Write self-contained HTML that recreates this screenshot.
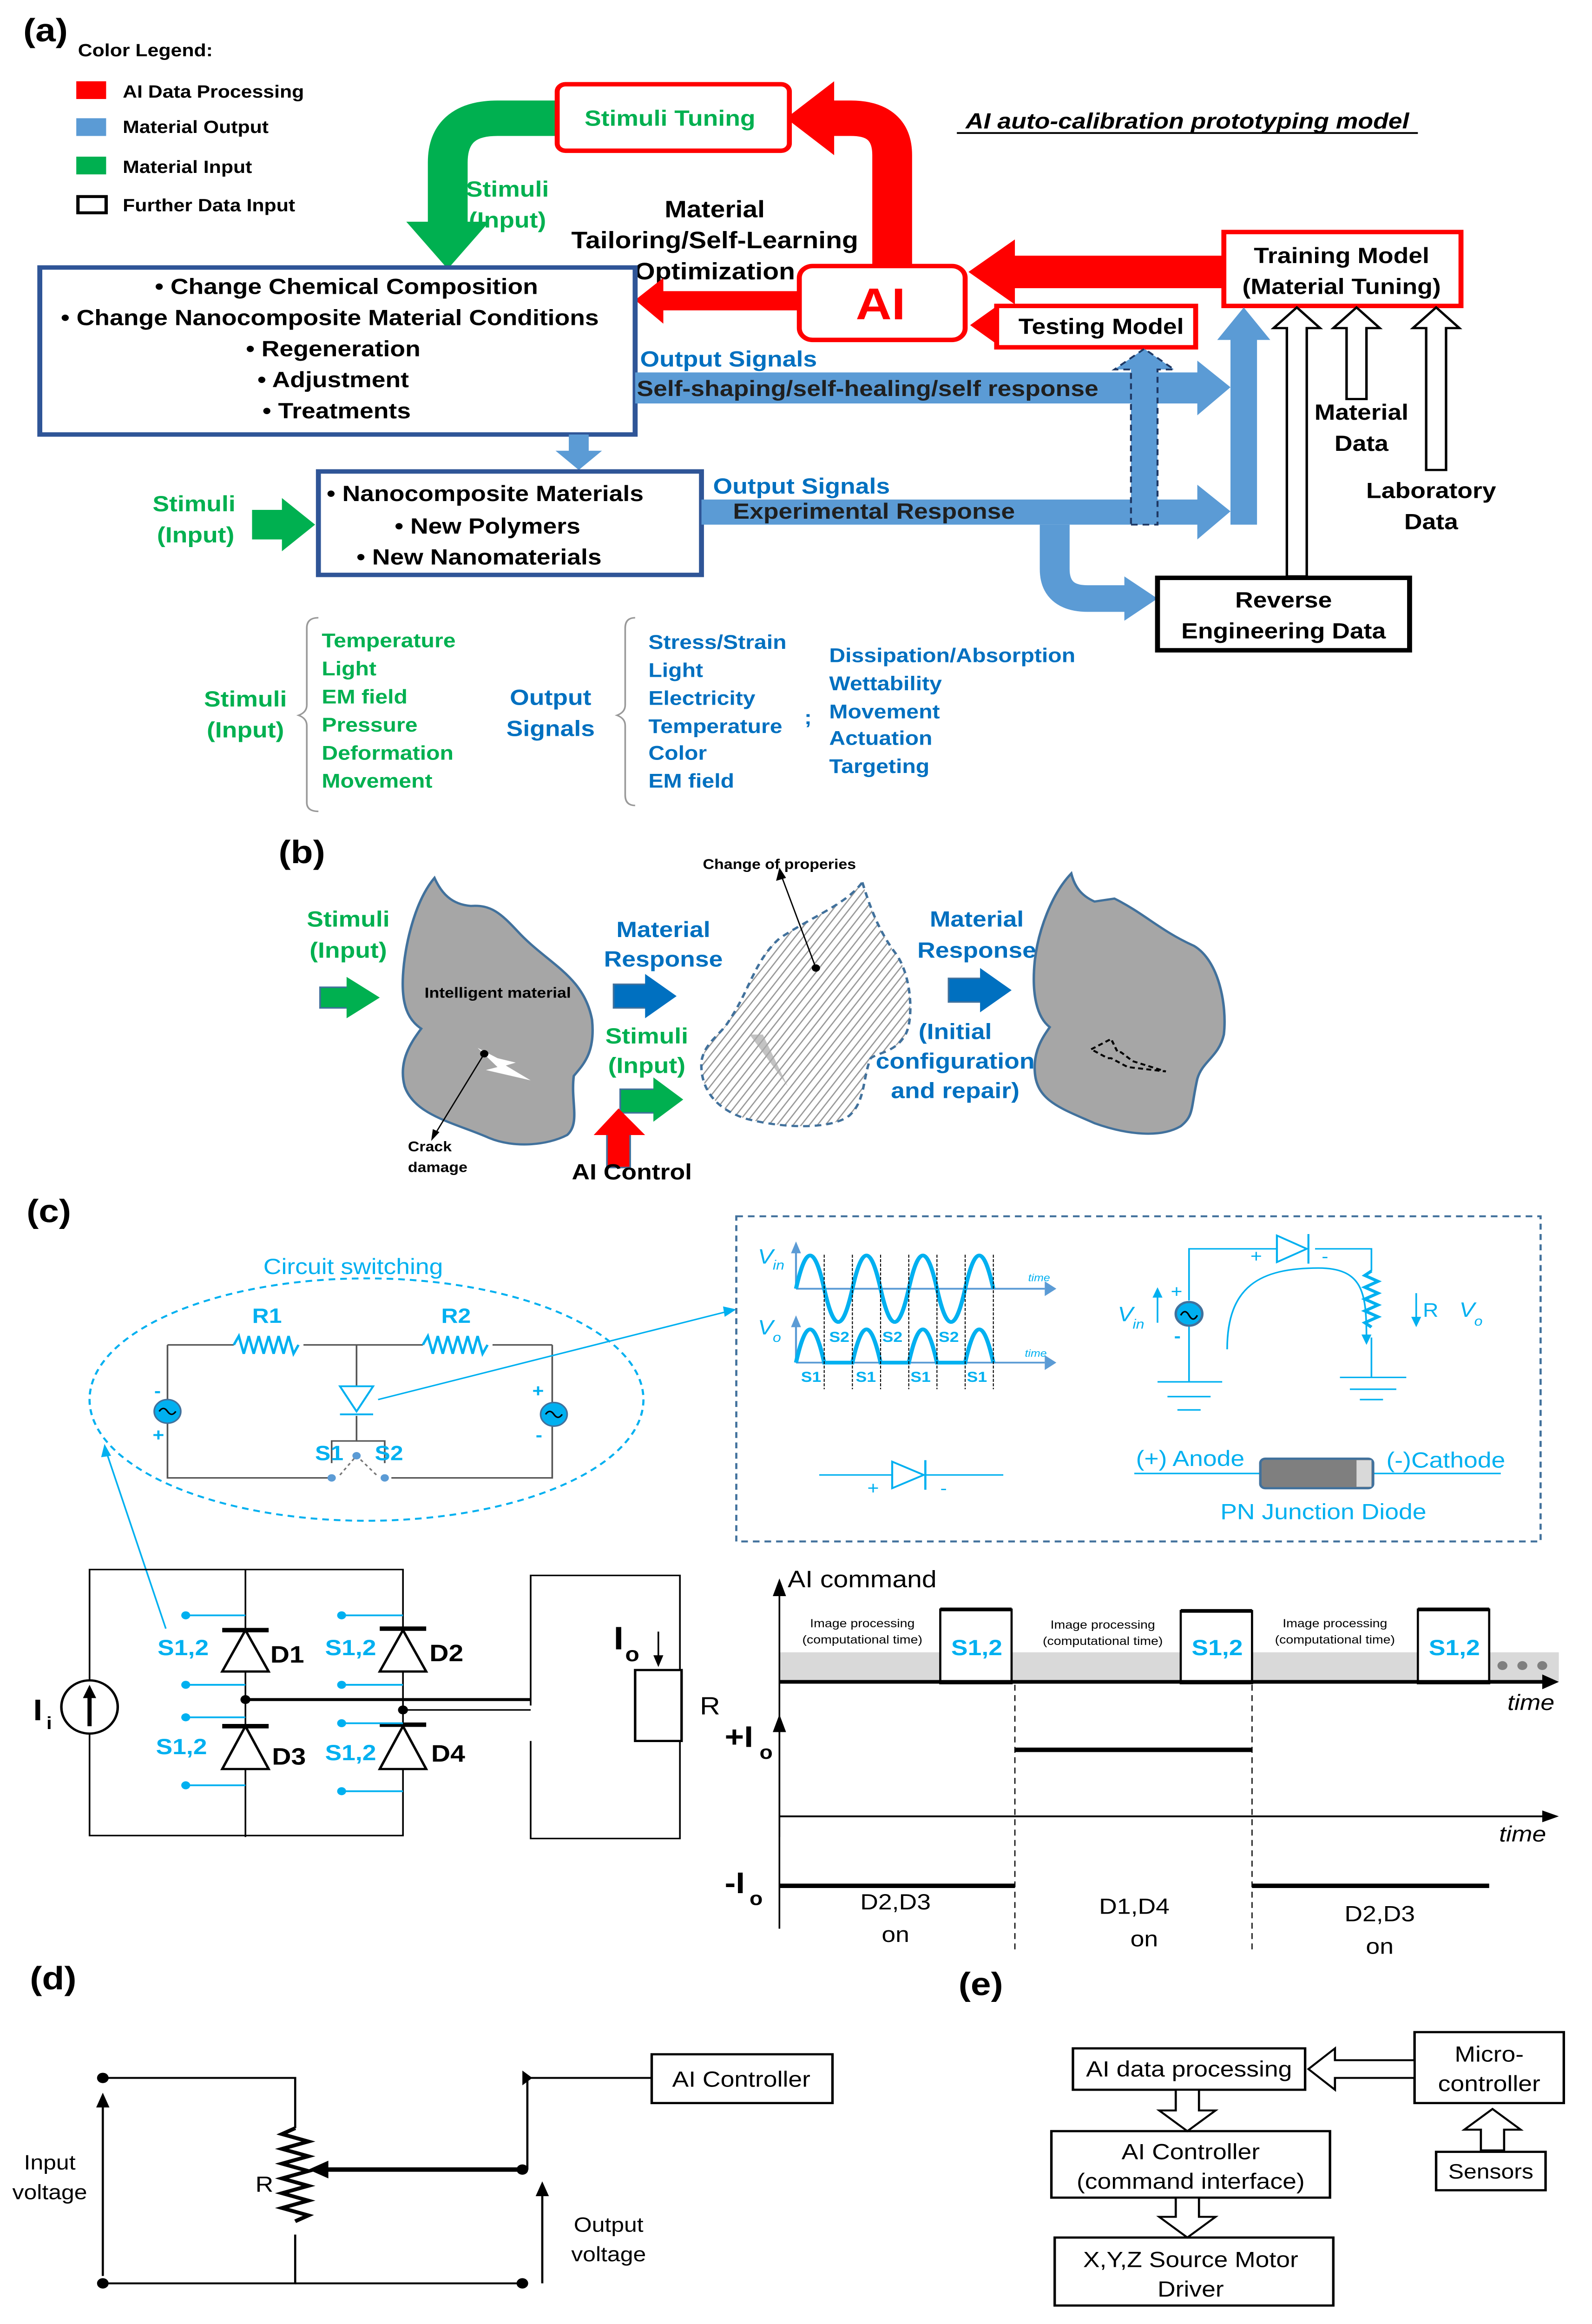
<!DOCTYPE html>
<html><head><meta charset="utf-8"><style>
html,body{margin:0;padding:0;background:#fff;width:100%;height:100%;overflow:hidden;}
svg{display:block;width:100vw;height:100vh;}
text{font-family:"Liberation Sans",sans-serif;}
</style></head><body>
<svg viewBox="0 0 960 1572.5" preserveAspectRatio="none" xmlns="http://www.w3.org/2000/svg">
<defs>
<pattern id="hatch" width="4" height="4" patternUnits="userSpaceOnUse" patternTransform="rotate(35)">
<rect width="4" height="4" fill="#fff"/><line x1="0" y1="0" x2="0" y2="4" stroke="#999" stroke-width="1.6"/>
</pattern>
</defs>
<rect width="960" height="1572.5" fill="#fff"/>

<!-- ================= (a) ================= -->
<text x="14" y="28" font-size="22" font-weight="bold">(a)</text>
<text x="47" y="38" font-size="12" font-weight="bold">Color Legend:</text>
<rect x="46" y="55" width="18" height="12" fill="#ff0000"/><text x="74" y="66" font-size="12" font-weight="bold">AI Data Processing</text>
<rect x="46" y="80" width="18" height="12" fill="#5b9bd5"/><text x="74" y="90" font-size="12" font-weight="bold">Material Output</text>
<rect x="46" y="106" width="18" height="12" fill="#00b050"/><text x="74" y="117" font-size="12" font-weight="bold">Material Input</text>
<rect x="47" y="133" width="17" height="11" fill="#fff" stroke="#000" stroke-width="2"/><text x="74" y="143" font-size="12" font-weight="bold">Further Data Input</text>

<path d="M336,80 L300,80 Q270,80 270,110 L270,152" fill="none" stroke="#00b050" stroke-width="24"/>
<polygon points="245,150 295,150 270,182" fill="#00b050"/>
<path d="M538,182 L538,105 Q538,80 513,80 L500,80" fill="none" stroke="#ff0000" stroke-width="24"/>
<polygon points="503,55 503,105 474,80" fill="#ff0000"/>
<rect x="336" y="57" width="140" height="45" rx="5" fill="#fff" stroke="#ff0000" stroke-width="3"/>
<text x="404" y="85" font-size="15" font-weight="bold" fill="#00b050" text-anchor="middle">Stimuli Tuning</text>
<text x="306" y="133" font-size="15" font-weight="bold" fill="#00b050" text-anchor="middle">Stimuli</text>
<text x="306" y="154" font-size="15" font-weight="bold" fill="#00b050" text-anchor="middle">(Input)</text>
<text x="431" y="147" font-size="16" font-weight="bold" text-anchor="middle">Material</text>
<text x="431" y="168" font-size="16" font-weight="bold" text-anchor="middle">Tailoring/Self-Learning</text>
<text x="431" y="189" font-size="16" font-weight="bold" text-anchor="middle">Optimization</text>
<text x="716" y="87" font-size="15" font-weight="bold" font-style="italic" text-anchor="middle">AI auto-calibration prototyping model</text>
<line x1="577" y1="90" x2="855" y2="90" stroke="#000" stroke-width="1.2"/>

<rect x="610" y="173" width="130" height="22" fill="#ff0000"/>
<polygon points="612,162 612,206 584,184" fill="#ff0000"/>
<rect x="398" y="197" width="90" height="13" fill="#ff0000"/>
<polygon points="400,188 400,219 383,203" fill="#ff0000"/>
<rect x="595" y="214" width="10" height="12" fill="#ff0000"/>
<polygon points="600,208 600,232 585,220" fill="#ff0000"/>
<rect x="482" y="180" width="100" height="50" rx="8" fill="#fff" stroke="#ff0000" stroke-width="3"/>
<text x="531" y="216" font-size="30" font-weight="bold" fill="#ff0000" text-anchor="middle">AI</text>
<rect x="738" y="157" width="143" height="50" fill="#fff" stroke="#ff0000" stroke-width="3"/>
<text x="809" y="178" font-size="15" font-weight="bold" text-anchor="middle">Training Model</text>
<text x="809" y="199" font-size="15" font-weight="bold" text-anchor="middle">(Material Tuning)</text>
<rect x="601" y="207" width="120" height="28" fill="#fff" stroke="#ff0000" stroke-width="3"/>
<text x="664" y="226" font-size="15" font-weight="bold" text-anchor="middle">Testing Model</text>

<rect x="24" y="181" width="359" height="113" fill="#fff" stroke="#2f5597" stroke-width="3"/>
<text font-size="15" font-weight="bold" text-anchor="middle">
<tspan x="211" y="199">•   Change Chemical Composition</tspan>
<tspan x="201" y="220">•   Change Nanocomposite Material Conditions</tspan>
<tspan x="203" y="241">•   Regeneration</tspan>
<tspan x="203" y="262">•   Adjustment</tspan>
<tspan x="203" y="283">•   Treatments</tspan>
</text>
<rect x="343" y="294" width="12" height="12" fill="#5b9bd5"/>
<polygon points="335,305 363,305 349,318" fill="#5b9bd5"/>

<rect x="383" y="252" width="340" height="21" fill="#5b9bd5"/>
<polygon points="722,244 722,281 742,262" fill="#5b9bd5"/>
<text x="386" y="248" font-size="15" font-weight="bold" fill="#0070c0">Output Signals</text>
<text x="384" y="268" font-size="15" font-weight="bold" fill="#1f1f1f">Self-shaping/self-healing/self response</text>

<rect x="192" y="319" width="231" height="70" fill="#fff" stroke="#2f5597" stroke-width="3"/>
<text font-size="15" font-weight="bold">
<tspan x="197" y="339">•    Nanocomposite Materials</tspan>
<tspan x="238" y="361">•    New Polymers</tspan>
<tspan x="215" y="382">•    New Nanomaterials</tspan>
</text>
<text x="117" y="346" font-size="15" font-weight="bold" fill="#00b050" text-anchor="middle">Stimuli</text>
<text x="118" y="367" font-size="15" font-weight="bold" fill="#00b050" text-anchor="middle">(Input)</text>
<rect x="152" y="345" width="20" height="20" fill="#00b050"/>
<polygon points="170,337 170,373 190,355" fill="#00b050"/>

<path d="M636,355 L636,385 Q636,405 656,405 L680,405" fill="none" stroke="#5b9bd5" stroke-width="18"/>
<polygon points="678,390 678,420 698,405" fill="#5b9bd5"/>
<rect x="423" y="338" width="300" height="17" fill="#5b9bd5"/>
<polygon points="722,328 722,365 742,346" fill="#5b9bd5"/>
<text x="430" y="334" font-size="15" font-weight="bold" fill="#0070c0">Output Signals</text>
<text x="442" y="351" font-size="15" font-weight="bold" fill="#1f1f1f">Experimental Response</text>
<polygon points="682,355 698,355 698,250 708,250 690,236 672,250 682,250" fill="#5b9bd5" stroke="#1f3864" stroke-width="1.2" stroke-dasharray="4,3"/>
<rect x="742" y="228" width="16" height="127" fill="#5b9bd5"/>
<polygon points="734,230 766,230 750,208" fill="#5b9bd5"/>
<polygon points="776,390 788,390 788,222 796,222 782,208 768,222 776,222" fill="#fff" stroke="#000" stroke-width="1.5"/>
<polygon points="812,270 824,270 824,222 832,222 818,208 804,222 812,222" fill="#fff" stroke="#000" stroke-width="1.5"/>
<polygon points="860,318 872,318 872,222 880,222 866,208 852,222 860,222" fill="#fff" stroke="#000" stroke-width="1.5"/>
<text x="821" y="284" font-size="15" font-weight="bold" text-anchor="middle">Material</text>
<text x="821" y="305" font-size="15" font-weight="bold" text-anchor="middle">Data</text>
<text x="863" y="337" font-size="15" font-weight="bold" text-anchor="middle">Laboratory</text>
<text x="863" y="358" font-size="15" font-weight="bold" text-anchor="middle">Data</text>
<rect x="698" y="391" width="152" height="49" fill="#fff" stroke="#000" stroke-width="3"/>
<text x="774" y="411" font-size="15" font-weight="bold" text-anchor="middle">Reverse</text>
<text x="774" y="432" font-size="15" font-weight="bold" text-anchor="middle">Engineering Data</text>

<text x="148" y="478" font-size="15" font-weight="bold" fill="#00b050" text-anchor="middle">Stimuli</text>
<text x="148" y="499" font-size="15" font-weight="bold" fill="#00b050" text-anchor="middle">(Input)</text>
<path d="M192,418 Q185,418 185,425 L185,477 Q185,482 180,484 Q185,486 185,491 L185,543 Q185,549 192,549" fill="none" stroke="#999" stroke-width="1"/>
<text font-size="13.5" font-weight="bold" fill="#00b050">
<tspan x="194" y="438">Temperature</tspan><tspan x="194" y="457">Light</tspan><tspan x="194" y="476">EM field</tspan><tspan x="194" y="495">Pressure</tspan><tspan x="194" y="514">Deformation</tspan><tspan x="194" y="533">Movement</tspan>
</text>
<text x="332" y="477" font-size="15" font-weight="bold" fill="#0070c0" text-anchor="middle">Output</text>
<text x="332" y="498" font-size="15" font-weight="bold" fill="#0070c0" text-anchor="middle">Signals</text>
<path d="M383,418 Q377,418 377,425 L377,477 Q377,482 372,484 Q377,486 377,491 L377,538 Q377,545 383,545" fill="none" stroke="#999" stroke-width="1"/>
<text font-size="13.5" font-weight="bold" fill="#0070c0">
<tspan x="391" y="439">Stress/Strain</tspan><tspan x="391" y="458">Light</tspan><tspan x="391" y="477">Electricity</tspan><tspan x="391" y="496">Temperature</tspan><tspan x="391" y="514">Color</tspan><tspan x="391" y="533">EM field</tspan>
<tspan x="485" y="490">;</tspan>
<tspan x="500" y="448">Dissipation/Absorption</tspan><tspan x="500" y="467">Wettability</tspan><tspan x="500" y="486">Movement</tspan><tspan x="500" y="504">Actuation</tspan><tspan x="500" y="523">Targeting</tspan>
</text>

<!-- ================= (b) ================= -->
<text x="168" y="584" font-size="22" font-weight="bold">(b)</text>
<path d="M262,594 C266,604 272,612 284,613 C296,612 302,618 312,630 C330,652 352,660 357,690 C359,712 352,720 346,728 C344,745 350,760 342,768 C330,775 310,777 295,770 C275,760 250,755 244,735 C240,718 248,705 254,696 C246,690 242,680 243,660 C244,640 250,610 262,594 Z" fill="#a6a6a6" stroke="#41719c" stroke-width="1.5"/>
<polygon points="300,716 288,709 300,722 293,724 320,731 305,721 311,719" fill="#fff"/>
<circle cx="292" cy="713" r="2.5" fill="#000"/>
<line x1="292" y1="713" x2="262" y2="768" stroke="#000" stroke-width="0.8"/>
<polygon points="260,772 261,764 265,766" fill="#000"/>
<text x="256" y="675" font-size="10" font-weight="bold">Intelligent material</text>
<text x="246" y="779" font-size="9.5" font-weight="bold">Crack</text>
<text x="246" y="793" font-size="9.5" font-weight="bold">damage</text>
<text x="210" y="627" font-size="15" font-weight="bold" fill="#00b050" text-anchor="middle">Stimuli</text>
<text x="210" y="648" font-size="15" font-weight="bold" fill="#00b050" text-anchor="middle">(Input)</text>
<rect x="193" y="668" width="17" height="14" fill="#00b050" stroke="#41719c" stroke-width="1"/>
<polygon points="209,661 209,689 229,675" fill="#00b050"/>
<text x="400" y="634" font-size="15" font-weight="bold" fill="#0070c0" text-anchor="middle">Material</text>
<text x="400" y="654" font-size="15" font-weight="bold" fill="#0070c0" text-anchor="middle">Response</text>
<rect x="370" y="666" width="20" height="16" fill="#0070c0" stroke="#41719c" stroke-width="1"/>
<polygon points="389,659 389,689 408,674" fill="#0070c0"/>
<text x="390" y="706" font-size="15" font-weight="bold" fill="#00b050" text-anchor="middle">Stimuli</text>
<text x="390" y="726" font-size="15" font-weight="bold" fill="#00b050" text-anchor="middle">(Input)</text>
<rect x="374" y="737" width="21" height="16" fill="#00b050" stroke="#41719c" stroke-width="1"/>
<polygon points="394,729 394,759 412,744" fill="#00b050"/>
<rect x="366" y="766" width="14" height="24" fill="#ff0000" stroke="#41719c" stroke-width="1"/>
<polygon points="358,768 389,768 373,750" fill="#ff0000"/>
<text x="381" y="798" font-size="15" font-weight="bold" text-anchor="middle">AI Control</text>
<path d="M520,597 C525,615 530,630 540,645 C550,660 551,690 546,700 C540,712 530,712 525,716 C520,730 522,745 512,755 C500,765 470,763 450,757 C430,750 422,735 423,718 C425,705 435,700 440,690 C452,670 455,650 470,635 C490,620 510,612 520,597 Z" fill="url(#hatch)" stroke="#41719c" stroke-width="1.5" stroke-dasharray="4,3"/>
<polygon points="452,700 460,700 475,735" fill="#aaa" opacity="0.7"/>
<circle cx="492" cy="655" r="2.5" fill="#000"/>
<line x1="492" y1="655" x2="471" y2="592" stroke="#000" stroke-width="0.8"/>
<polygon points="470,587 468,596 474,594" fill="#000"/>
<text x="470" y="588" font-size="9.5" font-weight="bold" text-anchor="middle">Change of properies</text>
<text x="589" y="627" font-size="15" font-weight="bold" fill="#0070c0" text-anchor="middle">Material</text>
<text x="589" y="648" font-size="15" font-weight="bold" fill="#0070c0" text-anchor="middle">Response</text>
<rect x="572" y="662" width="20" height="16" fill="#0070c0" stroke="#41719c" stroke-width="1"/>
<polygon points="591,655 591,685 610,670" fill="#0070c0"/>
<text x="576" y="703" font-size="15" font-weight="bold" fill="#0070c0" text-anchor="middle">(Initial</text>
<text x="576" y="723" font-size="15" font-weight="bold" fill="#0070c0" text-anchor="middle">configuration</text>
<text x="576" y="743" font-size="15" font-weight="bold" fill="#0070c0" text-anchor="middle">and repair)</text>
<path d="M646,591 C648,600 652,606 660,610 L672,608 C690,618 700,630 720,640 C735,650 740,680 738,700 C735,715 725,718 722,730 C718,750 720,755 712,762 C700,770 680,768 660,760 C640,750 625,745 624,725 C623,710 630,700 633,695 C625,688 622,672 624,650 C626,630 634,605 646,591 Z" fill="#a6a6a6" stroke="#41719c" stroke-width="1.5"/>
<polygon points="658,710 670,703 674,712 676,712 683,718 703,725 680,722 670,716 668,716" fill="none" stroke="#000" stroke-width="1.3" stroke-dasharray="3,2"/>

<!-- ================= (c) ================= -->
<text x="16" y="827" font-size="22" font-weight="bold">(c)</text>
<ellipse cx="221" cy="947" rx="167" ry="82" fill="none" stroke="#00b0f0" stroke-width="1.3" stroke-dasharray="4,3"/>
<text x="213" y="862" font-size="15" fill="#00b0f0" text-anchor="middle">Circuit switching</text>
<text x="161" y="895" font-size="14" font-weight="bold" fill="#00b0f0" text-anchor="middle">R1</text>
<text x="275" y="895" font-size="14" font-weight="bold" fill="#00b0f0" text-anchor="middle">R2</text>
<g stroke="#555" stroke-width="1" fill="none">
<path d="M101,910 L141,910"/><path d="M183,910 L255,910"/><path d="M297,910 L333,910"/>
<path d="M101,910 L101,947"/><path d="M101,963 L101,1000 L200,1000"/><path d="M236,1000 L333,1000 L333,965"/><path d="M333,949 L333,910"/>
<path d="M215,910 L215,938"/><path d="M215,958 L215,975 L200,975 L200,990"/><path d="M215,975 L232,975 L232,990"/>
</g>
<path d="M141,910 l3,-6 l3,12 l3,-12 l3,12 l3,-12 l3,12 l3,-12 l3,12 l3,-12 l3,12 l3,-12 l3,12 l3,-6" fill="none" stroke="#00b0f0" stroke-width="1.5"/>
<path d="M255,910 l3,-6 l3,12 l3,-12 l3,12 l3,-12 l3,12 l3,-12 l3,12 l3,-12 l3,12 l3,-12 l3,12 l3,-6" fill="none" stroke="#00b0f0" stroke-width="1.5"/>
<polygon points="205,938 225,938 215,955" fill="none" stroke="#00b0f0" stroke-width="1.2"/>
<line x1="205" y1="957" x2="225" y2="957" stroke="#00b0f0" stroke-width="1.2"/>
<circle cx="101" cy="955" r="8" fill="#00b0f0" stroke="#41719c" stroke-width="1"/>
<path d="M96,955 q2.5,-4 5,0 t5,0" fill="none" stroke="#000" stroke-width="1"/>
<circle cx="334" cy="957" r="8" fill="#00b0f0" stroke="#41719c" stroke-width="1"/>
<path d="M329,957 q2.5,-4 5,0 t5,0" fill="none" stroke="#000" stroke-width="1"/>
<text x="93" y="945" font-size="12" font-weight="bold" fill="#00b0f0">-</text>
<text x="92" y="975" font-size="12" font-weight="bold" fill="#00b0f0">+</text>
<text x="321" y="945" font-size="12" font-weight="bold" fill="#00b0f0">+</text>
<text x="323" y="975" font-size="12" font-weight="bold" fill="#00b0f0">-</text>
<text x="190" y="988" font-size="14" font-weight="bold" fill="#00b0f0">S1</text>
<text x="226" y="988" font-size="14" font-weight="bold" fill="#00b0f0">S2</text>
<path d="M205,998 L215,985 L227,998" fill="none" stroke="#777" stroke-width="1" stroke-dasharray="2,2"/>
<circle cx="200" cy="1000" r="2.5" fill="#5b9bd5"/><circle cx="232" cy="1000" r="2.5" fill="#5b9bd5"/><circle cx="215" cy="985" r="2.5" fill="#5b9bd5"/>
<line x1="228" y1="947" x2="440" y2="887" stroke="#00b0f0" stroke-width="1"/>
<polygon points="444,886 436,884 437,891" fill="#00b0f0"/>
<line x1="100" y1="1102" x2="64" y2="982" stroke="#00b0f0" stroke-width="1"/>
<polygon points="63,977 61,986 67,985" fill="#00b0f0"/>

<rect x="444" y="823" width="485" height="220" fill="none" stroke="#41719c" stroke-width="1.3" stroke-dasharray="4,3"/>
<g stroke="#5b9bd5" stroke-width="1.2" fill="none">
<line x1="480" y1="872" x2="630" y2="872"/><line x1="480" y1="922" x2="630" y2="922"/>
<line x1="480" y1="872" x2="480" y2="846"/><line x1="480" y1="922" x2="480" y2="896"/>
</g>
<polygon points="630,867 630,877 637,872" fill="#5b9bd5"/><polygon points="630,917 630,927 637,922" fill="#5b9bd5"/>
<polygon points="477,848 483,848 480,840" fill="#5b9bd5"/><polygon points="477,898 483,898 480,890" fill="#5b9bd5"/>
<path d="M480,872 C486,842 491,842 497,872 C503,902 508,902 514,872 C520,842 525,842 531,872 C537,902 542,902 548,872 C554,842 559,842 565,872 C571,902 576,902 582,872 C588,842 593,842 599,872" fill="none" stroke="#00b0f0" stroke-width="2.5"/>
<path d="M480,922 C486,892 491,892 497,922 L514,922 C520,892 525,892 531,922 L548,922 C554,892 559,892 565,922 L582,922 C588,892 593,892 599,922" fill="none" stroke="#00b0f0" stroke-width="2.5"/>
<g stroke="#000" stroke-width="0.6" stroke-dasharray="2,1">
<line x1="497" y1="849" x2="497" y2="940"/><line x1="514" y1="849" x2="514" y2="940"/><line x1="531" y1="849" x2="531" y2="940"/><line x1="548" y1="849" x2="548" y2="940"/><line x1="565" y1="849" x2="565" y2="940"/><line x1="582" y1="849" x2="582" y2="940"/><line x1="599" y1="849" x2="599" y2="940"/>
</g>
<text x="457" y="855" font-size="14" font-style="italic" fill="#00b0f0">V</text><text x="466" y="859" font-size="9" font-style="italic" fill="#00b0f0">in</text>
<text x="457" y="903" font-size="14" font-style="italic" fill="#00b0f0">V</text><text x="466" y="908" font-size="9" font-style="italic" fill="#00b0f0">o</text>
<text x="620" y="867" font-size="7" font-style="italic" fill="#00b0f0">time</text>
<text x="618" y="918" font-size="7" font-style="italic" fill="#00b0f0">time</text>
<g font-size="10" font-weight="bold" fill="#00b0f0">
<text x="500" y="908">S2</text><text x="532" y="908">S2</text><text x="566" y="908">S2</text>
<text x="483" y="935">S1</text><text x="516" y="935">S1</text><text x="549" y="935">S1</text><text x="583" y="935">S1</text>
</g>
<g stroke="#00b0f0" stroke-width="1" fill="none">
<path d="M717,880 L717,845 L770,845"/><path d="M793,845 L827,845 L827,860"/>
<path d="M717,897 L717,935"/><path d="M698,935 L737,935"/><path d="M704,945 L730,945"/><path d="M710,954 L724,954"/>
<path d="M827,905 L827,932"/><path d="M808,932 L848,932"/><path d="M814,940 L842,940"/><path d="M820,947 L834,947"/>
<path d="M740,913 C740,870 760,858 795,858 C822,858 824,875 824,905"/>
<line x1="854" y1="875" x2="854" y2="892"/>
<line x1="698" y1="895" x2="698" y2="876"/>
</g>
<polygon points="770,836 770,854 788,845" fill="none" stroke="#00b0f0" stroke-width="1.2"/>
<line x1="789" y1="835" x2="789" y2="855" stroke="#00b0f0" stroke-width="1.2"/>
<path d="M827,860 l-4,3 l8,4 l-8,4 l8,4 l-8,4 l8,4 l-8,4 l8,4 l-8,4 l4,3" fill="none" stroke="#00b0f0" stroke-width="2"/>
<polygon points="821,903 827,903 824,910" fill="#00b0f0"/>
<polygon points="851,891 857,891 854,898" fill="#00b0f0"/>
<polygon points="695,878 701,878 698,871" fill="#00b0f0"/>
<circle cx="717" cy="889" r="8" fill="#00b0f0" stroke="#41719c" stroke-width="1.5"/>
<path d="M712,890 q2.5,-5 5,0 t5,0" fill="none" stroke="#000" stroke-width="1"/>
<text x="706" y="878" font-size="12" fill="#00b0f0">+</text><text x="708" y="908" font-size="12" font-weight="bold" fill="#00b0f0">-</text>
<text x="754" y="854" font-size="12" fill="#00b0f0">+</text><text x="797" y="854" font-size="12" fill="#00b0f0">-</text>
<text x="674" y="894" font-size="14" font-style="italic" fill="#00b0f0">V</text><text x="683" y="899" font-size="9" font-style="italic" fill="#00b0f0">in</text>
<text x="858" y="891" font-size="13" fill="#00b0f0">R</text>
<text x="880" y="891" font-size="14" font-style="italic" fill="#00b0f0">V</text><text x="889" y="897" font-size="9" font-style="italic" fill="#00b0f0">o</text>
<line x1="494" y1="998" x2="538" y2="998" stroke="#00b0f0" stroke-width="1"/><line x1="558" y1="998" x2="605" y2="998" stroke="#00b0f0" stroke-width="1"/>
<polygon points="538,989 538,1007 557,998" fill="none" stroke="#00b0f0" stroke-width="1.2"/>
<line x1="558" y1="988" x2="558" y2="1008" stroke="#00b0f0" stroke-width="1.3"/>
<text x="523" y="1011" font-size="12" fill="#00b0f0">+</text><text x="567" y="1011" font-size="12" fill="#00b0f0">-</text>
<line x1="684" y1="997" x2="760" y2="997" stroke="#00b0f0" stroke-width="1"/><line x1="828" y1="997" x2="905" y2="997" stroke="#00b0f0" stroke-width="1"/>
<rect x="760" y="987" width="68" height="20" rx="3" fill="#7f7f7f" stroke="#41719c" stroke-width="1.5"/>
<rect x="818" y="988" width="9" height="18" fill="#d9d9d9"/>
<text x="685" y="992" font-size="15" fill="#00b0f0">(+) Anode</text>
<text x="836" y="993" font-size="15" fill="#00b0f0">(-)Cathode</text>
<text x="798" y="1028" font-size="15" fill="#00b0f0" text-anchor="middle">PN Junction Diode</text>

<g stroke="#000" stroke-width="1" fill="none">
<path d="M54,1138 L54,1062 L243,1062 L243,1103"/>
<path d="M54,1172 L54,1242 L243,1242 L243,1195"/>
<path d="M148,1062 L148,1103"/><path d="M148,1130 L148,1168"/><path d="M148,1195 L148,1243"/>
<path d="M243,1130 L243,1168"/>
<path d="M320,1154 L320,1066 L410,1066 L410,1130"/>
<path d="M410,1178 L410,1244 L320,1244 L320,1178"/>
</g>
<line x1="148" y1="1150" x2="320" y2="1150" stroke="#000" stroke-width="2"/>
<line x1="243" y1="1157" x2="320" y2="1157" stroke="#000" stroke-width="1"/>
<circle cx="148" cy="1150" r="3" fill="#000"/><circle cx="243" cy="1157" r="3" fill="#000"/>
<g stroke="#000" stroke-width="1.5" fill="#fff">
<polygon points="148,1103 134,1131 162,1131"/><polygon points="243,1103 229,1131 257,1131"/>
<polygon points="148,1168 134,1197 162,1197"/><polygon points="243,1168 229,1197 257,1197"/>
</g>
<g stroke="#000" stroke-width="3">
<line x1="134" y1="1103" x2="162" y2="1103"/><line x1="229" y1="1102" x2="257" y2="1102"/>
<line x1="134" y1="1168" x2="162" y2="1168"/><line x1="229" y1="1167" x2="257" y2="1167"/>
</g>
<g stroke="#00b0f0" stroke-width="1.2">
<line x1="112" y1="1093" x2="148" y2="1093"/><line x1="206" y1="1093" x2="243" y2="1093"/>
<line x1="112" y1="1140" x2="148" y2="1140"/><line x1="206" y1="1140" x2="243" y2="1140"/>
<line x1="112" y1="1162" x2="148" y2="1162"/><line x1="206" y1="1166" x2="243" y2="1166"/>
<line x1="112" y1="1208" x2="148" y2="1208"/><line x1="206" y1="1212" x2="243" y2="1212"/>
</g>
<g fill="#00b0f0">
<circle cx="112" cy="1093" r="2.7"/><circle cx="206" cy="1093" r="2.7"/><circle cx="112" cy="1140" r="2.7"/><circle cx="206" cy="1140" r="2.7"/>
<circle cx="112" cy="1162" r="2.7"/><circle cx="206" cy="1166" r="2.7"/><circle cx="112" cy="1208" r="2.7"/><circle cx="206" cy="1212" r="2.7"/>
</g>
<g font-size="15" font-weight="bold" fill="#00b0f0">
<text x="95" y="1120">S1,2</text><text x="196" y="1120">S1,2</text><text x="94" y="1187">S1,2</text><text x="196" y="1191">S1,2</text>
</g>
<g font-size="16" font-weight="bold">
<text x="163" y="1125">D1</text><text x="259" y="1124">D2</text><text x="164" y="1194">D3</text><text x="260" y="1192">D4</text>
</g>
<ellipse cx="54" cy="1155" rx="17" ry="18" fill="#fff" stroke="#000" stroke-width="1.5"/>
<line x1="54" y1="1168" x2="54" y2="1147" stroke="#000" stroke-width="2.5"/>
<polygon points="50,1149 58,1149 54,1140" fill="#000"/>
<text x="20" y="1164" font-size="20" font-weight="bold">I</text><text x="28" y="1170" font-size="12" font-weight="bold">i</text>
<rect x="383" y="1130" width="28" height="48" fill="#fff" stroke="#000" stroke-width="1.5"/>
<line x1="397" y1="1104" x2="397" y2="1122" stroke="#000" stroke-width="1"/>
<polygon points="394,1120 400,1120 397,1128" fill="#000"/>
<text x="370" y="1116" font-size="22" font-weight="bold">I</text><text x="377" y="1124" font-size="14" font-weight="bold">o</text>
<text x="422" y="1160" font-size="17">R</text>

<rect x="470" y="1118" width="470" height="20" fill="#d9d9d9"/>
<line x1="470" y1="1243" x2="470" y2="1078" stroke="#000" stroke-width="1"/>
<polygon points="466,1080 474,1080 470,1068" fill="#000"/>
<text x="475" y="1074" font-size="16">AI command</text>
<g fill="#fff" stroke="#000" stroke-width="1.3">
<rect x="567" y="1089" width="43" height="50"/><rect x="712" y="1090" width="43" height="49"/><rect x="855" y="1089" width="43" height="50"/>
</g>
<g stroke="#000" stroke-width="2.5">
<line x1="567" y1="1089" x2="610" y2="1089"/><line x1="712" y1="1090" x2="755" y2="1090"/><line x1="855" y1="1089" x2="898" y2="1089"/>
</g>
<line x1="470" y1="1138" x2="932" y2="1138" stroke="#000" stroke-width="2.5"/>
<polygon points="930,1133 930,1143 940,1138" fill="#000"/>
<g font-size="8" text-anchor="middle">
<text x="520" y="1101">Image processing</text><text x="520" y="1112">(computational time)</text>
<text x="665" y="1102">Image processing</text><text x="665" y="1113">(computational time)</text>
<text x="805" y="1101">Image processing</text><text x="805" y="1112">(computational time)</text>
</g>
<g font-size="15" font-weight="bold" fill="#00b0f0" text-anchor="middle">
<text x="589" y="1120">S1,2</text><text x="734" y="1120">S1,2</text><text x="877" y="1120">S1,2</text>
</g>
<circle cx="906" cy="1127" r="3" fill="#7f7f7f"/><circle cx="918" cy="1127" r="3" fill="#7f7f7f"/><circle cx="930" cy="1127" r="3" fill="#7f7f7f"/>
<text x="909" y="1157" font-size="15" font-style="italic">time</text>
<line x1="470" y1="1305" x2="470" y2="1170" stroke="#000" stroke-width="1"/>
<polygon points="466,1172 474,1172 470,1160" fill="#000"/>
<line x1="470" y1="1229" x2="932" y2="1229" stroke="#000" stroke-width="1.2"/>
<polygon points="930,1225 930,1233 940,1229" fill="#000"/>
<text x="904" y="1246" font-size="15" font-style="italic">time</text>
<text x="437" y="1182" font-size="20" font-weight="bold">+I</text><text x="458" y="1190" font-size="13" font-weight="bold">o</text>
<text x="437" y="1281" font-size="20" font-weight="bold">-I</text><text x="452" y="1289" font-size="13" font-weight="bold">o</text>
<g stroke="#000" stroke-width="3"><line x1="470" y1="1276" x2="612" y2="1276"/><line x1="612" y1="1184" x2="755" y2="1184"/><line x1="755" y1="1276" x2="898" y2="1276"/></g>
<g stroke="#000" stroke-width="0.7" stroke-dasharray="4,3"><line x1="612" y1="1140" x2="612" y2="1322"/><line x1="755" y1="1140" x2="755" y2="1322"/></g>
<g font-size="15" text-anchor="middle">
<text x="540" y="1292">D2,D3</text><text x="540" y="1314">on</text>
<text x="684" y="1295">D1,D4</text><text x="690" y="1317">on</text>
<text x="832" y="1300">D2,D3</text><text x="832" y="1322">on</text>
</g>

<!-- ================= (d) ================= -->
<text x="18" y="1346" font-size="22" font-weight="bold">(d)</text>
<g stroke="#000" stroke-width="1.3" fill="none">
<path d="M62,1406 L178,1406 L178,1440"/><path d="M178,1512 L178,1545 L62,1545"/>
<path d="M178,1545 L315,1545"/>
<path d="M393,1406 L318,1406 L318,1468"/>
<line x1="62" y1="1540" x2="62" y2="1425"/>
<line x1="327" y1="1545" x2="327" y2="1485"/>
</g>
<circle cx="62" cy="1406" r="3.5" fill="#000"/><circle cx="62" cy="1545" r="3.5" fill="#000"/><circle cx="315" cy="1545" r="3.5" fill="#000"/><circle cx="315" cy="1468" r="3.5" fill="#000"/>
<polygon points="58,1426 66,1426 62,1416" fill="#000"/>
<polygon points="323,1486 331,1486 327,1476" fill="#000"/>
<polygon points="315,1401 315,1411 321,1406" fill="#000"/>
<path d="M178,1440 l-8,4 l16,5 l-16,5 l16,5 l-16,5 l16,5 l-16,5 l16,5 l-16,5 l16,5 l-16,5 l16,5 l-8,4" fill="none" stroke="#000" stroke-width="2.5"/>
<line x1="196" y1="1468" x2="318" y2="1468" stroke="#000" stroke-width="3"/>
<polygon points="198,1462 198,1474 186,1468" fill="#000"/>
<text x="154" y="1483" font-size="15">R</text>
<rect x="393" y="1390" width="109" height="33" fill="#fff" stroke="#000" stroke-width="1.5"/>
<text x="447" y="1412" font-size="15" text-anchor="middle">AI Controller</text>
<text x="30" y="1468" font-size="14" text-anchor="middle">Input</text><text x="30" y="1488" font-size="14" text-anchor="middle">voltage</text>
<text x="367" y="1510" font-size="14" text-anchor="middle">Output</text><text x="367" y="1530" font-size="14" text-anchor="middle">voltage</text>

<!-- ================= (e) ================= -->
<text x="578" y="1350" font-size="22" font-weight="bold">(e)</text>
<rect x="647" y="1386" width="140" height="28" fill="#fff" stroke="#000" stroke-width="1.5"/>
<text x="717" y="1405" font-size="15" text-anchor="middle">AI data processing</text>
<rect x="853" y="1375" width="90" height="48" fill="#fff" stroke="#000" stroke-width="1.5"/>
<text x="898" y="1395" font-size="15" text-anchor="middle">Micro-</text><text x="898" y="1415" font-size="15" text-anchor="middle">controller</text>
<polygon points="853,1394 805,1394 805,1386 789,1400 805,1414 805,1406 853,1406" fill="#fff" stroke="#000" stroke-width="1.3"/>
<rect x="634" y="1442" width="168" height="45" fill="#fff" stroke="#000" stroke-width="1.5"/>
<text x="718" y="1461" font-size="15" text-anchor="middle">AI  Controller</text><text x="718" y="1481" font-size="15" text-anchor="middle">(command interface)</text>
<polygon points="709,1414 723,1414 723,1428 733,1428 716,1442 699,1428 709,1428" fill="#fff" stroke="#000" stroke-width="1.3"/>
<rect x="636" y="1514" width="168" height="46" fill="#fff" stroke="#000" stroke-width="1.5"/>
<text x="718" y="1534" font-size="15" text-anchor="middle">X,Y,Z Source Motor</text><text x="718" y="1554" font-size="15" text-anchor="middle">Driver</text>
<polygon points="709,1487 723,1487 723,1500 733,1500 716,1514 699,1500 709,1500" fill="#fff" stroke="#000" stroke-width="1.3"/>
<rect x="866" y="1456" width="66" height="26" fill="#fff" stroke="#000" stroke-width="1.5"/>
<text x="899" y="1474" font-size="14" text-anchor="middle">Sensors</text>
<polygon points="893,1455 907,1455 907,1441 917,1441 900,1427 883,1441 893,1441" fill="#fff" stroke="#000" stroke-width="1.3"/>
</svg>
</body></html>
